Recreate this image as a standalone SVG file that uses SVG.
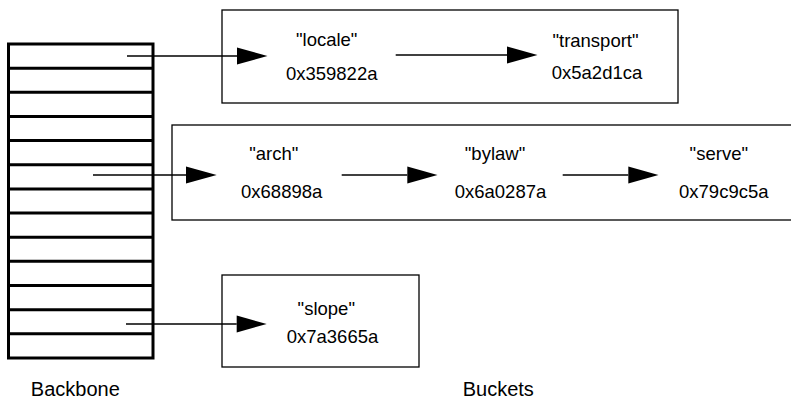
<svg xmlns="http://www.w3.org/2000/svg" width="791" height="401" viewBox="0 0 791 401">
<style>
.box{fill:none;stroke:#000;stroke-width:1.3}
.bb{fill:none;stroke:#000;stroke-width:3}
.ln{stroke:#000;stroke-width:1.3;fill:none}
.hd{fill:#000;stroke:none}
text{font-family:"Liberation Sans",Arial,sans-serif;font-size:18.5px;fill:#000;text-anchor:middle}
.lbl{font-size:20px}
</style>
<rect width="791" height="401" fill="#fff"/>
<g id="backbone">
<rect class="bb" x="8.5" y="44" width="144.5" height="314"/>
<path class="bb" d="M8.5 68.15H153M8.5 92.3H153M8.5 116.45H153M8.5 140.6H153M8.5 164.75H153M8.5 188.9H153M8.5 213.05H153M8.5 237.2H153M8.5 261.35H153M8.5 285.5H153M8.5 309.65H153M8.5 333.8H153"/>
</g>
<g id="bucket1">
<rect class="box" x="222" y="10" width="456" height="93"/>
</g>
<g id="bucket2">
<rect class="box" x="172" y="125" width="640" height="95"/>
</g>
<g id="bucket3">
<rect class="box" x="222" y="275" width="197" height="92"/>
</g>
<g id="node-locale"><text x="326.7" y="46">"locale"</text><text x="331.7" y="80">0x359822a</text></g>
<g id="node-transport"><text x="595.5" y="46.5">"transport"</text><text x="597" y="78.5">0x5a2d1ca</text></g>
<g id="node-arch"><text x="273.7" y="160">"arch"</text><text x="281.7" y="198">0x68898a</text></g>
<g id="node-bylaw"><text x="495" y="160">"bylaw"</text><text x="500.5" y="198">0x6a0287a</text></g>
<g id="node-serve"><text x="718.8" y="160">"serve"</text><text x="723.8" y="197.5">0x79c9c5a</text></g>
<g id="node-slope"><text x="326.3" y="315">"slope"</text><text x="332.5" y="343.3">0x7a3665a</text></g>
<g id="connectors">
<path class="ln" d="M127 56H237"/><path class="hd" d="M237 47.5L267.5 56L237 64.5Z"/>
<path class="ln" d="M395.7 55H507"/><path class="hd" d="M507 46.5L537.5 55L507 63.5Z"/>
<path class="ln" d="M93 175H186"/><path class="hd" d="M186 166.5L216.7 175L186 183.5Z"/>
<path class="ln" d="M341.7 175H407.3"/><path class="hd" d="M407.3 166.5L437.5 175L407.3 183.5Z"/>
<path class="ln" d="M562.7 175H628.3"/><path class="hd" d="M628.3 166.5L658.5 175L628.3 183.5Z"/>
<path class="ln" d="M126 324H236.7"/><path class="hd" d="M236.7 315.5L266.7 324L236.7 332.5Z"/>
</g>
<text class="lbl" x="75.3" y="396">Backbone</text>
<text class="lbl" x="498.3" y="396">Buckets</text>
</svg>
